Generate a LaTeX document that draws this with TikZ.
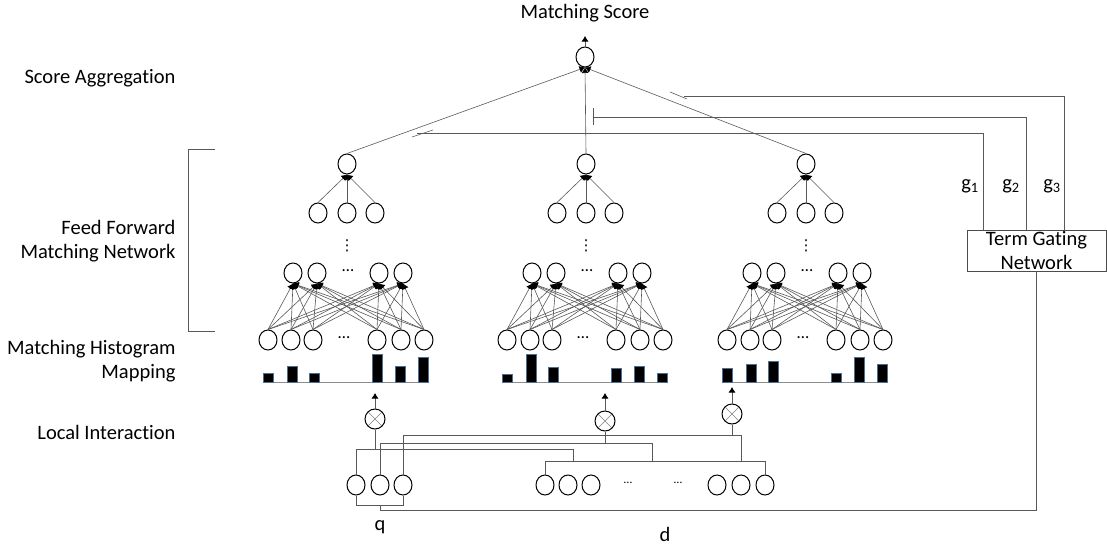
\documentclass[tikz,border=0pt]{standalone}
\usepackage{fontspec}
\setmainfont[Ligatures=NoCommon]{Carlito}
\newfontfamily\symf{DejaVu Sans}
\usetikzlibrary{shapes.geometric,arrows.meta,calc}
\definecolor{steelcol}{HTML}{4F6F8F}
\tikzset{
 neuron/.style={ellipse,draw=black,line width=1pt,minimum width=18pt,minimum height=20pt,inner sep=0pt},
 xop/.style={circle,draw=black,line width=1pt,minimum size=20pt,inner sep=0pt,
   path picture={\draw[black!50,line width=0.6pt] (path picture bounding box.north west)--(path picture bounding box.south east) (path picture bounding box.north east)--(path picture bounding box.south west);}},
 conn/.style={draw=black!65,line width=0.6pt},
 arr/.style={conn,-{Latex[length=5.5pt,width=7pt,color=black]}},
 barbox/.style={fill=black,draw=steelcol,line width=0.8pt},
 baseln/.style={draw=black!45,line width=0.8pt},
 lbl/.style={font=\fontsize{20.5}{23.5}\selectfont},
 dotlbl/.style={font=\fontsize{17}{18}\selectfont,inner sep=0pt},
 vdotlbl/.style={font=\symf\fontsize{15}{16}\selectfont,inner sep=0pt},
}
\newcommand{\ffnet}[8]{%
\begin{scope}[shift={(#2,0)}]
 \node[neuron] (#1t) at (0,164) {};
 \foreach \dx [count=\i] in {-29,0,28} \node[neuron] (#1m\i) at (\dx,213) {};
 \node[vdotlbl] (#1vd) at (0,246) {⋮};
 \foreach \dx [count=\i] in {-54,-30,32,56} \node[neuron] (#1u\i) at (\dx,273) {};
 \node[dotlbl] (#1ud) at (1,271) {\dots};
 \foreach \dx [count=\i] in {-79,-56,-34,30,54,77} \node[neuron] (#1l\i) at (\dx,340) {};
 \node[dotlbl] (#1ld) at (-3,338) {\dots};
 \foreach \i in {1,...,6} \foreach \j in {1,...,4} \draw[arr] (#1l\i.north) -- (#1u\j.south);
 \foreach \i in {1,2,3} \draw[arr] (#1m\i.north) -- (#1t.south);
 \draw[baseln] (-84,382) -- (81,382);
 \foreach \dx/\h in {-79/#3,-55/#4,-33/#5,30/#6,53/#7,76/#8} \draw[barbox] (\dx-5,382) rectangle (\dx+5,\h);
\end{scope}}
\begin{document}
\begin{tikzpicture}[x=1pt,y=-1pt]
\useasboundingbox (0,0) rectangle (1107,544);
% left labels
\node[lbl,anchor=east] (la) at (179,78) {Score Aggregation};
\node[lbl,anchor=east,align=right] (lb) at (179,241) {Feed Forward\\Matching Network};
\node[lbl,anchor=east,align=right] (lc) at (179,361) {Matching Histogram\\Mapping};
\node[lbl,anchor=east] (ld) at (179,432) {Local Interaction};
\draw[draw=black!65,line width=0.8pt] (215,149) -- (188,149) -- (188,331) -- (215,331);
% score
\node[lbl] (mstxt) at (585,13) {Matching Score};
\node[neuron] (score) at (585,57) {};
\coordinate (msout) at (585,36);
\draw[arr] (score.north) -- (msout);
% networks
\ffnet{A}{347}{373}{366}{373}{354}{366}{357}
\ffnet{B}{586}{374}{354}{367}{368}{366}{373}
\ffnet{C}{806}{368}{364}{361}{373}{357}{364}
\draw[arr] (At.north) -- (score.south);
\draw[arr] (Bt.north) -- (score.south);
\draw[arr] (Ct.north) -- (score.south);
% term gating network
\node[draw=black!70,line width=0.8pt,minimum width=139pt,minimum height=41pt,align=center,inner sep=0pt,lbl] (tgn) at (1036.5,250.5) {Term Gating\\Network};
\coordinate (g1c) at (983,133);
\coordinate (g1e) at (417,133);
\coordinate (g2c) at (1026,117);
\coordinate (g2e) at (593,117);
\coordinate (g3c) at (1064,96);
\coordinate (g3e) at (684,96);
\draw[conn] (g1c |- tgn.north) -- (g1c) -- (g1e);
\draw[conn] (g2c |- tgn.north) -- (g2c) -- (g2e);
\draw[conn] (g3c |- tgn.north) -- (g3c) -- (g3e);
\draw[conn] (412,137) -- (433,130);
\draw[conn] (593,108) -- (593,125);
\draw[conn] (670,92) -- (687,99);
\node[lbl] (g1l) at (970,186) {g\textsubscript{1}};
\node[lbl] (g2l) at (1011,186) {g\textsubscript{2}};
\node[lbl] (g3l) at (1052,186) {g\textsubscript{3}};
% local interaction
\node[xop] (X1) at (375,419) {};
\node[xop] (X2) at (605,421) {};
\node[xop] (X3) at (732,414) {};
\coordinate (X1o) at (375,393);
\coordinate (X2o) at (605,393);
\coordinate (X3o) at (732,387);
\draw[arr] (X1.north) -- (X1o);
\draw[arr] (X2.north) -- (X2o);
\draw[arr] (X3.north) -- (X3o);
\foreach \x [count=\i] in {356,380,403} \node[neuron] (q\i) at (\x,485) {};
\foreach \x [count=\i] in {545,568,591,717,741,765} \node[neuron] (d\i) at (\x,485) {};
\node[font=\fontsize{12}{14}\selectfont,inner sep=0pt] (dd1) at (628,483) {\dots};
\node[font=\fontsize{12}{14}\selectfont,inner sep=0pt] (dd2) at (678,483) {\dots};
\coordinate (w1) at (573,449);
\coordinate (w2) at (652,443);
\coordinate (w3) at (741,435);
\draw[conn] (d1.north) -- ++(0,-13) -| (d6.north);
\draw[conn] (q1.north) |- (w1) -- ++(0,13);
\draw[conn] (q2.north) |- (w2) -- ++(0,19);
\draw[conn] (q3.north) |- (w3) -- ++(0,27);
\draw[conn] (X1.south) -- (X1.south |- w1);
\draw[conn] (X2.south) -- (X2.south |- w2);
\draw[conn] (X3.south) -- (X3.south |- w3);
\coordinate (qb) at (380,510);
\draw[conn] (q1.south) -- ++(0,10) -| (q3.south);
\draw[conn] (tgn.south) |- (qb) -- ++(0,-5);
\node[lbl] (ql) at (380,527) {q};
\node[lbl] (dl) at (665,534) {d};
\end{tikzpicture}
\end{document}
